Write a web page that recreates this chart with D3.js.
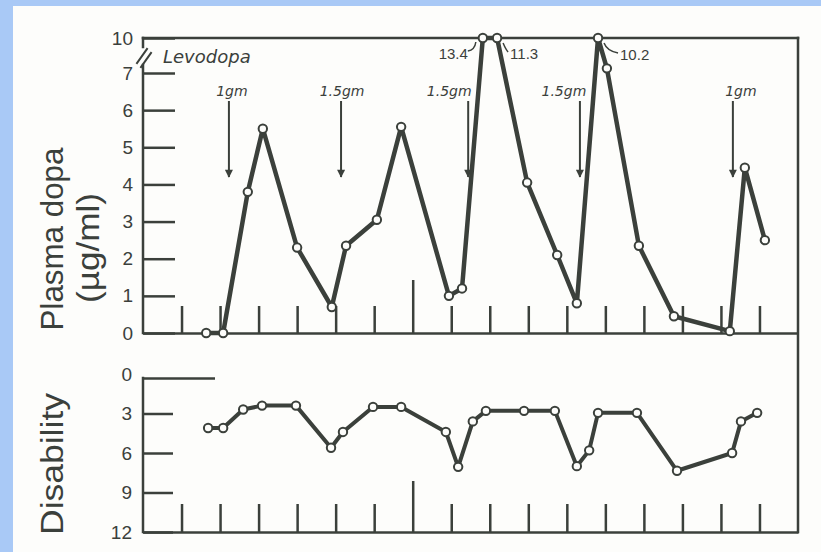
<!DOCTYPE html>
<html>
<head>
<meta charset="utf-8">
<script src="https://cdn.jsdelivr.net/npm/d3@7"></script>
<style>
  body { margin: 0; background: #a9c9f6; }
  svg { display: block; }
</style>
</head>
<body>
<svg width="821" height="552"></svg>
<script>
// plasma dopa (ug/ml) vs hours
const plasmaHours = [1.64, 2.08, 2.72, 3.11, 4.0, 4.9, 5.27, 6.07, 6.7, 7.94, 8.28, 8.82, 9.19, 9.97, 10.75, 11.26, 11.81, 12.04, 12.87, 13.78, 15.23, 15.62, 16.14];
const plasmaValues = [0, 0, 3.8, 5.5, 2.3, 0.7, 2.35, 3.05, 5.55, 1.0, 1.2, 13.4, 11.3, 4.05, 2.1, 0.8, 10.2, 7.4, 2.35, 0.45, 0.05, 4.45, 2.5];

// disability score vs hours
const disabilityHours = [1.69, 2.08, 2.6, 3.09, 3.97, 4.88, 5.19, 5.97, 6.7, 7.86, 8.18, 8.56, 8.9, 9.89, 10.69, 11.26, 11.58, 11.81, 12.82, 13.86, 15.29, 15.52, 15.94];
const disabilityScores = [4.1, 4.1, 2.7, 2.4, 2.4, 5.6, 4.4, 2.5, 2.5, 4.4, 7.05, 3.6, 2.8, 2.8, 2.8, 7.0, 5.8, 2.95, 2.95, 7.35, 6.0, 3.6, 2.95];

// levodopa doses
const doseHours = [2.23, 5.14, 8.44, 11.34, 15.31];
const doseLabels = ['1gm', '1.5gm', '1.5gm', '1.5gm', '1gm'];

// tick values
const plasmaTicks = [0, 1, 2, 3, 4, 5, 6, 7, 10];
const disabilityTicks = [0, 3, 6, 9, 12];
const hourTicks = d3.range(1, 17);

const ink = '#3b403b';
const svg = d3.select('svg');

// white page area
svg.append('rect').attr('x', 13).attr('y', 6).attr('width', 808).attr('height', 546).attr('fill', '#fdfdfb');

var x = d3.scaleLinear().domain([0, 17]).range([143, 798]);
var yTop = d3.scaleLinear().domain([0, 7, 10]).range([333, 73, 38]).clamp(true);
var yBot = d3.scaleLinear().domain([0, 12]).range([374, 532]);

var g = svg.append('g');

// frame lines
function seg(x1, y1, x2, y2, w) {
    g.append('line').attr('x1', x1).attr('y1', y1).attr('x2', x2).attr('y2', y2)
        .attr('stroke', ink).attr('stroke-width', w || 2.5).attr('stroke-linecap', 'square');
}
seg(x(0), yTop(10), x(17), yTop(10));           // top border
seg(x(17), yTop(10), x(17), yBot(12));          // right border
seg(x(0), yTop(10), x(0), 47);                   // left axis above break
seg(x(0), 65, x(0), yTop(0));                    // left axis below break
seg(x(0), yBot(0) + 4, x(0), yBot(12));          // disability axis
// axis break marks
seg(137, 63, 147, 49, 2);
seg(141, 67, 151, 53, 2);

// y axis ticks, top panel
var yAxisTop = g.append('g')
    .attr('transform', `translate(${x(0)},0)`)
    .call(d3.axisLeft(yTop).tickValues(plasmaTicks).tickSize(-32).tickPadding(10).tickFormat(d3.format('d')));
yAxisTop.select('.domain').remove();

// y axis ticks, bottom panel
var yAxisBot = g.append('g')
    .attr('transform', `translate(${x(0)},0)`)
    .call(d3.axisLeft(yBot).tickValues(disabilityTicks).tickSize(-30).tickPadding(11));
yAxisBot.select('.domain').remove();
yAxisBot.selectAll('.tick').filter(d => d === 0).select('line')
    .attr('x2', 72).attr('transform', 'translate(0,4)');

// x axes (hour ticks pointing up)
[[yTop(0), 27, 53], [yBot(12), 28, 51]].forEach(function(a) {
    var ax = g.append('g')
        .attr('transform', `translate(0,${a[0]})`)
        .call(d3.axisTop(x).tickValues(hourTicks).tickSize(a[1]).tickSizeOuter(0).tickFormat(''));
    ax.selectAll('.tick').filter(d => d === 7).select('line').attr('y2', -a[2]);
});

g.selectAll('.domain, .tick line').attr('stroke', ink).attr('stroke-width', 2.5);
g.selectAll('.tick text')
    .attr('fill', ink)
    .style('font-family', '"Liberation Sans", Arial, sans-serif')
    .style('font-size', '19px');

// axis titles
function vtitle(txt, bx, cy, len) {
    svg.append('text')
        .attr('transform', `translate(${bx},${cy}) rotate(-90)`)
        .attr('text-anchor', 'middle')
        .attr('textLength', len)
        .attr('lengthAdjust', 'spacingAndGlyphs')
        .attr('fill', ink)
        .style('font-family', '"Liberation Sans", Arial, sans-serif')
        .style('font-size', '31px')
        .text(txt);
}
vtitle('Plasma dopa', 63, 239, 183);
vtitle('(µg/ml)', 99, 248, 110);
vtitle('Disability', 63, 464, 142);

// Levodopa label
svg.append('text')
    .attr('x', 163).attr('y', 63)
    .attr('fill', ink)
    .style('font-family', '"DejaVu Sans", sans-serif')
    .style('font-style', 'italic')
    .style('font-size', '18px')
    .text('Levodopa');

// dose arrows
svg.append('defs').append('marker')
    .attr('id', 'head')
    .attr('viewBox', '0 0 10 10')
    .attr('refX', 9).attr('refY', 5)
    .attr('markerWidth', 5).attr('markerHeight', 4)
    .attr('orient', 'auto')
    .append('path').attr('d', 'M0,0 L10,5 L0,10 Z').attr('fill', ink);

var labelShift = [3, 1, -19, -16, 8];
doseHours.forEach(function(h, i) {
    svg.append('line')
        .attr('x1', x(h)).attr('y1', 101)
        .attr('x2', x(h)).attr('y2', 177)
        .attr('stroke', ink).attr('stroke-width', 2)
        .attr('marker-end', 'url(#head)');
    svg.append('text')
        .attr('x', x(h) + labelShift[i]).attr('y', 96)
        .attr('text-anchor', 'middle')
        .attr('fill', ink)
        .style('font-family', '"DejaVu Sans", sans-serif')
        .style('font-style', 'italic')
        .style('font-size', '14px')
        .text(doseLabels[i]);
});

// off-scale value labels
var offScale = [[11, 'end', -15, 59], [12, 'start', 13, 59], [16, 'start', 22, 60]];
offScale.forEach(function(o) {
    var px = x(plasmaHours[o[0]]);
    svg.append('text')
        .attr('x', px + o[2]).attr('y', o[3])
        .attr('text-anchor', o[1])
        .attr('fill', ink)
        .style('font-family', '"Liberation Sans", Arial, sans-serif')
        .style('font-size', '15px')
        .text(String(plasmaValues[o[0]]));
    var sx = o[2] < 0 ? px + o[2] : px + 6;
    var ex = o[2] < 0 ? px - 7 : px + o[2] - 2;
    svg.append('path')
        .attr('d', o[2] < 0 ? `M${sx},${o[3] - 8} Q${px - 8},${o[3] - 9} ${ex},${yTop(10) + 4}`
                            : `M${sx},${yTop(10) + 5} Q${sx + 3},${o[3] - 9} ${ex},${o[3] - 7}`)
        .attr('fill', 'none').attr('stroke', ink).attr('stroke-width', 1.5);
});

// series
function series(hours, vals, yScale, w) {
    var pts = hours.map((h, i) => [x(h), yScale(vals[i])]);
    svg.append('path')
        .datum(pts)
        .attr('d', d3.line())
        .attr('fill', 'none')
        .attr('stroke', ink)
        .attr('stroke-width', w)
        .attr('stroke-linejoin', 'round');
    svg.selectAll(null)
        .data(pts)
        .enter()
        .append('circle')
        .attr('cx', d => d[0])
        .attr('cy', d => d[1])
        .attr('r', 4.2)
        .attr('fill', '#fdfdfb')
        .attr('stroke', ink)
        .attr('stroke-width', 2);
}
series(plasmaHours, plasmaValues, yTop, 4.5);
series(disabilityHours, disabilityScores, yBot, 4);
</script>
</body>
</html>
